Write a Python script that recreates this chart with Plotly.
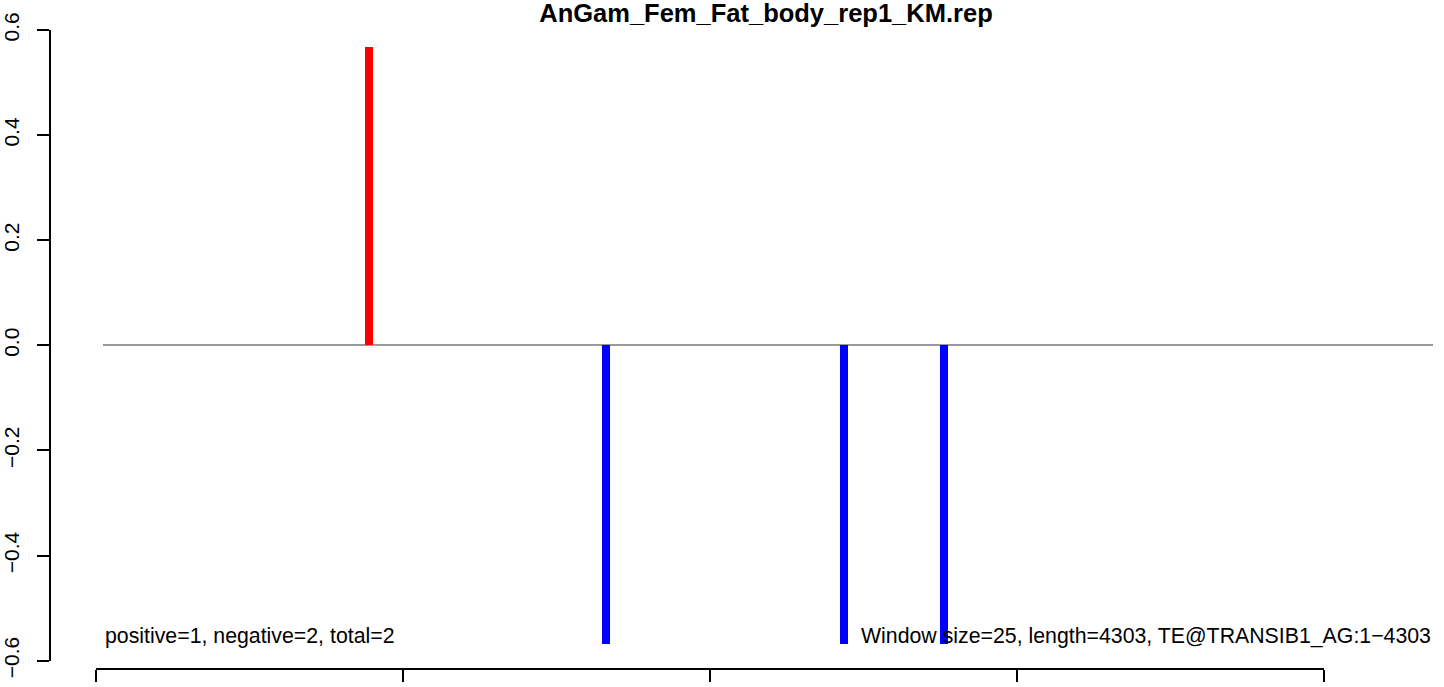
import plotly.graph_objects as go

# ---- data ----
title_text = "AnGam_Fem_Fat_body_rep1_KM.rep"
window_size = 25
bar_positions = [889, 1661, 2436, 2762]
bar_values = [0.5686, -0.5686, -0.5686, -0.5686]
y_ticks = [-0.6, -0.4, -0.2, 0.0, 0.2, 0.4, 0.6]
x_ticks = [0, 1000, 2000, 3000, 4000]
left_note = "positive=1, negative=2, total=2"
right_note = "Window size=25, length=4303, TE@TRANSIB1_AG:1\u22124303"

colors = ["#FF0000" if v > 0 else "#0000FF" for v in bar_values]
FONT = "Liberation Sans, Arial, Helvetica, sans-serif"

fig = go.Figure()
fig.add_trace(go.Bar(
    x=bar_positions, y=bar_values, width=[window_size] * len(bar_positions),
    marker=dict(color=colors, line=dict(width=0)),
    xaxis="x", yaxis="y", showlegend=False, hoverinfo="x+y",
))
# helper trace so the R-style bottom axis gets drawn
fig.add_trace(go.Scatter(x=[], y=[], xaxis="x2", yaxis="y2",
                         showlegend=False, hoverinfo="skip"))

fig.update_layout(
    width=1444, height=687,
    margin=dict(l=50, r=11, t=30, b=19, autoexpand=False),
    paper_bgcolor="white", plot_bgcolor="rgba(0,0,0,0)",
    font=dict(family=FONT, color="black"),
    title=dict(text="<b>" + title_text + "</b>", x=0.5177, xref="paper",
               xanchor="center", y=1 - 13 / 687, yref="container", yanchor="middle",
               font=dict(size=25.5, family=FONT, color="black")),
    bargap=0,
    xaxis=dict(domain=[(103 - 50) / 1383, 1.0], range=[22.8, 4355],
               visible=False, anchor="y", automargin=False),
    yaxis=dict(domain=[(668 - 660.7) / 638, 1.0], range=[-0.6, 0.6],
               anchor="free", position=0, tickmode="array", tickvals=y_ticks,
               ticktext=[("\u2212" if t < 0 else "") + f"{abs(t):.1f}" for t in y_ticks],
               ticks="outside", ticklen=12, tickwidth=1.5, tickcolor="black",
               showline=True, linewidth=1.5, linecolor="black",
               showgrid=False, zeroline=True, zerolinecolor="#999999",
               zerolinewidth=1.5, tickangle=-90, ticklabelstandoff=10,
               automargin=False,
               tickfont=dict(size=21, family=FONT, color="black")),
    xaxis2=dict(domain=[(96 - 50) / 1383, (1324 - 50) / 1383], range=[0, 4000],
                anchor="y2", tickmode="array", tickvals=x_ticks,
                showticklabels=False, ticks="outside", ticklen=12,
                tickwidth=1.5, tickcolor="black", showline=True,
                linewidth=1.5, linecolor="black", showgrid=False, zeroline=False,
                automargin=False),
    yaxis2=dict(domain=[0, 1], range=[0, 1], visible=False, anchor="x2",
                automargin=False),
    annotations=[
        dict(text=left_note, xref="x domain", yref="paper", x=0, y=(668 - 636) / 638,
             xanchor="left", yanchor="middle", showarrow=False,
             font=dict(size=21.3, family=FONT, color="black")),
        dict(text=right_note, xref="x domain", yref="paper", x=1, y=(668 - 636) / 638,
             xanchor="right", yanchor="middle", showarrow=False,
             font=dict(size=21.3, family=FONT, color="black")),
    ],
)

fig.write_html(
    "out.html",
    config={"displayModeBar": False},
    post_script="document.body.style.margin='0px';document.body.style.overflow='hidden';",
)
